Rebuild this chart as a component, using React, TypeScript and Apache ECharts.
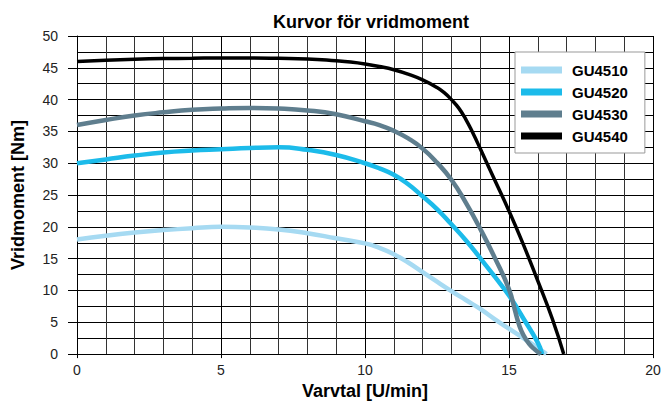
import React, { useEffect, useRef } from "react";
import * as echarts from "echarts";

const seriesNames = ["GU4510", "GU4520", "GU4530", "GU4540"];
const seriesColors = ["#a6daf2", "#1cbbea", "#5f7e8e", "#000000"];

const rpm4510 = [0, 1, 2, 3, 4, 5, 6, 7, 8, 9, 10, 10.5, 11, 11.5, 12, 12.5, 13, 13.5, 14, 14.5, 15, 15.5, 16, 16.3];
const torque4510 = [18, 18.6, 19.1, 19.5, 19.8, 20.0, 19.9, 19.6, 19.0, 18.2, 17.4, 16.7, 15.7, 14.4, 12.9, 11.4, 9.9, 8.5, 7.1, 5.5, 4.0, 2.5, 1.0, 0];

const rpm4520 = [0, 1, 2, 3, 4, 5, 6, 7, 8, 9, 10, 10.5, 11, 11.5, 12, 12.5, 13, 13.5, 14, 14.5, 15, 15.5, 16, 16.15];
const torque4520 = [30, 30.6, 31.2, 31.7, 32.0, 32.2, 32.4, 32.5, 32.1, 31.3, 30.0, 29.2, 28.2, 26.7, 24.8, 22.8, 20.4, 17.9, 15.1, 12.2, 9.2, 5.6, 1.8, 0];

const rpm4530 = [0, 1, 2, 3, 4, 5, 6, 7, 8, 9, 10, 10.5, 11, 11.5, 12, 12.5, 13, 13.5, 14, 14.5, 15, 15.2, 15.35, 15.5, 15.7, 15.9, 16.1];
const torque4530 = [36, 36.8, 37.5, 38.0, 38.4, 38.6, 38.7, 38.6, 38.3, 37.7, 36.6, 36.0, 35.1, 33.9, 32.3, 30.1, 27.4, 23.8, 19.7, 15.2, 10.2, 7.0, 4.6, 3.0, 1.6, 0.7, 0];

const rpm4540 = [0, 1, 2, 3, 4, 5, 6, 7, 8, 9, 9.5, 10, 10.5, 11, 11.5, 12, 12.5, 12.75, 13, 13.25, 13.5, 13.75, 14, 14.5, 15, 15.5, 16, 16.5, 16.9];
const torque4540 = [46.0, 46.2, 46.35, 46.45, 46.5, 46.55, 46.55, 46.5, 46.4, 46.1, 45.9, 45.6, 45.2, 44.7, 44.0, 43.1, 41.9, 41.1, 40.0, 38.7, 36.9, 34.7, 32.3, 27.4, 22.5, 17.2, 11.5, 5.6, 0];

const rpmData = [rpm4510, rpm4520, rpm4530, rpm4540];
const torqueData = [torque4510, torque4520, torque4530, torque4540];

const titleText = "Kurvor för vridmoment";
const xAxisName = "Varvtal [U/min]";
const yAxisName = "Vridmoment [Nm]";

const FONT = "'Liberation Sans', Arial, Helvetica, sans-serif";

export default function App() {
  const ref = useRef<HTMLDivElement>(null);

  useEffect(() => {
    if (!ref.current) return;
    const chart = echarts.init(ref.current, undefined, { renderer: "svg" });
    const series = seriesNames.map((name, i) => ({
      name,
      type: "line",
      data: rpmData[i].map((x, j) => [x, torqueData[i][j]]),
      showSymbol: false,
      symbol: "none",
      smooth: 0.5,
      color: seriesColors[i],
      lineStyle: { color: seriesColors[i], width: i === 3 ? 3.5 : 4.5 },
      z: 3 + i,
    }));
    chart.setOption({
      animation: false,
      backgroundColor: "#ffffff",
      textStyle: { fontFamily: FONT },
      title: {
        text: titleText,
        left: 366,
        textAlign: "center",
        top: 8,
        textStyle: { fontFamily: FONT, fontWeight: "bold", fontSize: 18, color: "#000" },
      },
      legend: {
        orient: "vertical",
        left: 515,
        top: 52,
        padding: [10, 17, 9, 6],
        itemWidth: 41,
        itemHeight: 7,
        itemGap: 6,
        icon: "rect",
        backgroundColor: "#ffffff",
        borderColor: "#999999",
        borderWidth: 1,
        borderRadius: 0,
        data: seriesNames,
        textStyle: {
          fontFamily: FONT,
          fontWeight: "bold",
          fontSize: 15,
          color: "#000",
          lineHeight: 16,
          padding: [0, 0, 0, 5],
        },
      },
      grid: { left: 77, right: 12, top: 36, bottom: 39, containLabel: false },
      xAxis: {
        type: "value",
        min: 0,
        max: 20,
        interval: 5,
        name: xAxisName,
        nameLocation: "middle",
        nameGap: 22,
        nameTextStyle: { fontFamily: FONT, fontWeight: "bold", fontSize: 18, color: "#000" },
        axisLine: { show: true, onZero: false, lineStyle: { color: "#000", width: 1 } },
        axisTick: { show: true, length: 4, lineStyle: { color: "#000" } },
        axisLabel: { margin: 9, fontSize: 14, color: "#222", fontFamily: FONT },
        splitLine: { show: true, lineStyle: { color: "#000", width: 1 } },
        minorTick: { show: false, splitNumber: 5 },
        minorSplitLine: { show: true, lineStyle: { color: "#333", width: 1 } },
      },
      yAxis: {
        type: "value",
        min: 0,
        max: 50,
        interval: 5,
        name: yAxisName,
        nameLocation: "middle",
        nameGap: 50,
        nameRotate: 90,
        nameTextStyle: { fontFamily: FONT, fontWeight: "bold", fontSize: 18, color: "#000" },
        axisLine: { show: true, onZero: false, lineStyle: { color: "#000", width: 1 } },
        axisTick: { show: true, length: 9, lineStyle: { color: "#000" } },
        axisLabel: { margin: 19, fontSize: 14, color: "#222", fontFamily: FONT },
        splitLine: { show: true, lineStyle: { color: "#000", width: 1 } },
        minorTick: { show: false, splitNumber: 2 },
        minorSplitLine: { show: true, lineStyle: { color: "#000", width: 1 } },
      },
      series,
    });
    return () => chart.dispose();
  }, []);

  return (
    <div
      ref={ref}
      style={{ position: "fixed", left: 0, top: 0, width: 665, height: 405, background: "#fff" }}
    />
  );
}
